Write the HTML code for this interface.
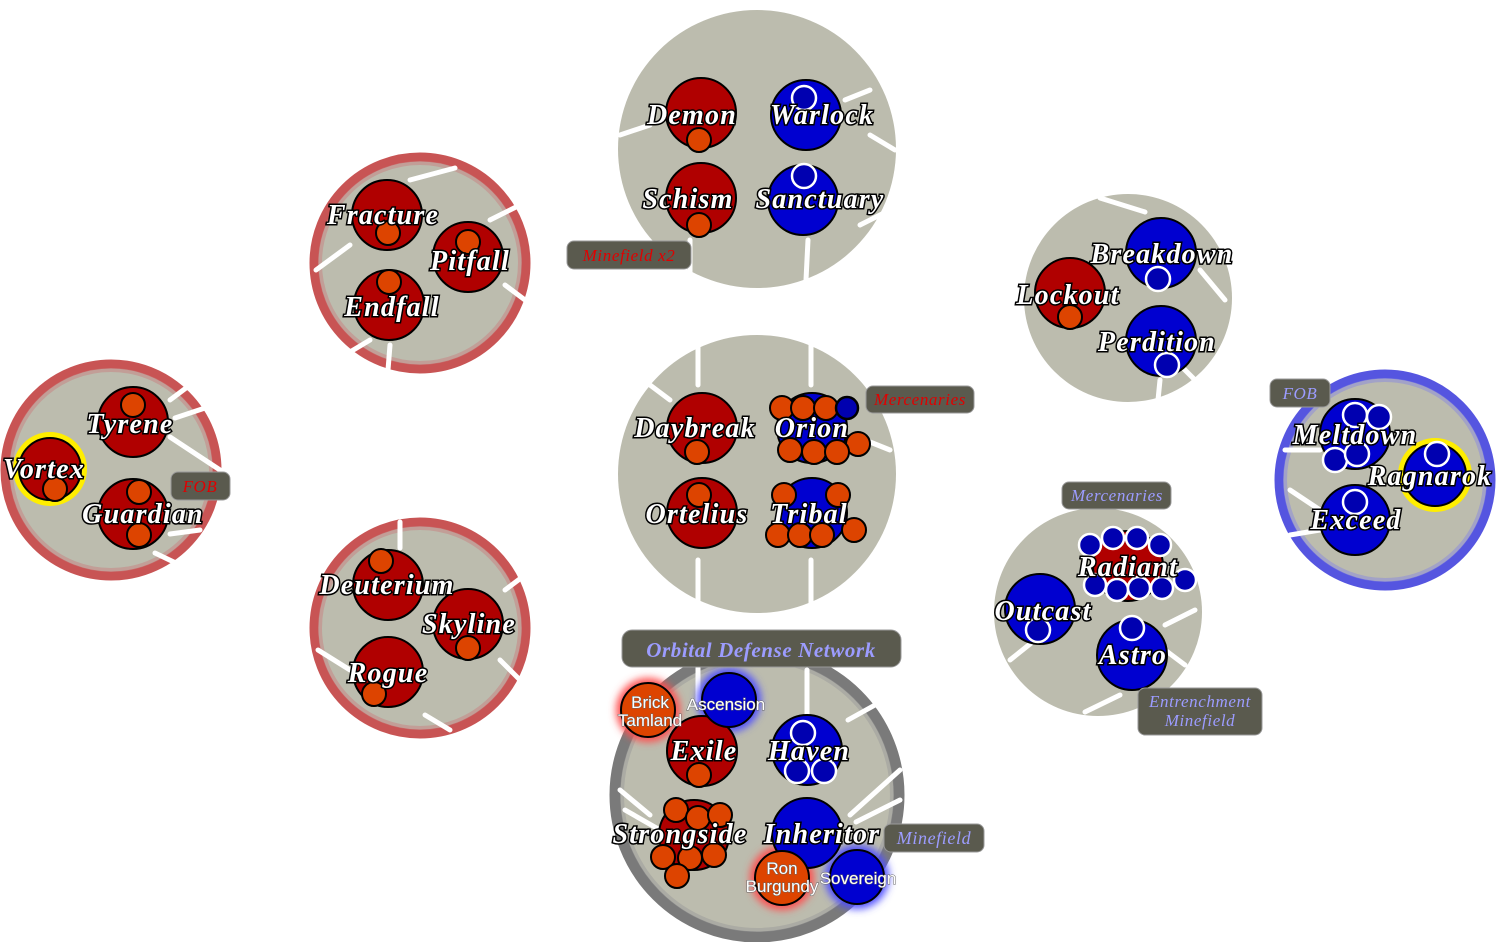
<!DOCTYPE html>
<html><head><meta charset="utf-8"><style>
html,body{margin:0;padding:0;background:#fff;}
svg{display:block}
.l{font-family:"Liberation Serif",serif;font-style:italic;font-weight:bold;font-size:28px;letter-spacing:1.2px;fill:#fff;stroke:#000;stroke-width:3px;paint-order:stroke;text-anchor:middle}
.s{font-family:"Liberation Sans",sans-serif;font-size:17px;fill:#fff;stroke:#666;stroke-width:1px;paint-order:stroke;text-anchor:middle}
.t{font-family:"Liberation Serif",serif;font-style:italic;font-size:17px;letter-spacing:0.6px;text-anchor:middle}
.sp{stroke:#fff;stroke-width:5;stroke-linecap:round}
</style></head><body>
<svg width="1497" height="942" viewBox="0 0 1497 942" xmlns="http://www.w3.org/2000/svg">
<defs>
<filter id="gr" x="-50%" y="-50%" width="200%" height="200%"><feGaussianBlur stdDeviation="4"/></filter>
</defs>
<g fill="#bcbcae">
<circle cx="757" cy="149" r="139"/>
<circle cx="420" cy="263" r="106" stroke="#c85454" stroke-width="9"/>
<circle cx="111" cy="470" r="106" stroke="#c85454" stroke-width="9"/>
<circle cx="420" cy="628" r="106" stroke="#c85454" stroke-width="9"/>
<circle cx="757" cy="474" r="139"/>
<circle cx="757" cy="795" r="142" stroke="#7a7a7a" stroke-width="11"/>
<circle cx="1128" cy="298" r="104"/>
<circle cx="1098" cy="612" r="104"/>
<circle cx="1385" cy="480" r="106" stroke="#5555e0" stroke-width="9"/>
</g>
<g fill="none" stroke-width="4" opacity="0.5">
<circle cx="420" cy="263" r="100" stroke="#c88080"/>
<circle cx="111" cy="470" r="100" stroke="#c88080"/>
<circle cx="420" cy="628" r="100" stroke="#c88080"/>
<circle cx="757" cy="795" r="135" stroke="#9a9a9a"/>
<circle cx="1385" cy="480" r="100" stroke="#8888e0"/>
</g>
<g class="sp">
<line x1="620" y1="135" x2="650" y2="125"/><line x1="690" y1="240" x2="690" y2="280"/><line x1="808" y1="240" x2="806" y2="280"/><line x1="860" y1="225" x2="890" y2="210"/><line x1="870" y1="135" x2="895" y2="150"/><line x1="845" y1="100" x2="870" y2="90"/>
<line x1="410" y1="180" x2="455" y2="168"/><line x1="490" y1="220" x2="520" y2="205"/><line x1="505" y1="285" x2="525" y2="300"/><line x1="316" y1="270" x2="350" y2="245"/><line x1="345" y1="355" x2="370" y2="340"/><line x1="390" y1="345" x2="388" y2="370"/>
<line x1="170" y1="400" x2="190" y2="385"/><line x1="175" y1="418" x2="205" y2="408"/><line x1="170" y1="437" x2="220" y2="470"/><line x1="170" y1="534" x2="200" y2="530"/><line x1="155" y1="553" x2="180" y2="565"/>
<line x1="400" y1="522" x2="400" y2="548"/><line x1="505" y1="590" x2="525" y2="575"/><line x1="500" y1="660" x2="520" y2="680"/><line x1="318" y1="650" x2="350" y2="670"/><line x1="425" y1="715" x2="450" y2="730"/>
<line x1="698" y1="345" x2="698" y2="385"/><line x1="811" y1="345" x2="811" y2="385"/><line x1="650" y1="385" x2="670" y2="400"/><line x1="698" y1="560" x2="698" y2="610"/><line x1="811" y1="560" x2="811" y2="610"/><line x1="865" y1="440" x2="890" y2="450"/>
<line x1="620" y1="790" x2="650" y2="815"/><line x1="625" y1="810" x2="660" y2="830"/><line x1="807" y1="670" x2="807" y2="715"/><line x1="848" y1="720" x2="875" y2="705"/><line x1="850" y1="815" x2="900" y2="770"/><line x1="856" y1="822" x2="900" y2="800"/><line x1="698" y1="668" x2="698" y2="700"/>
<line x1="1100" y1="198" x2="1145" y2="212"/><line x1="1200" y1="270" x2="1225" y2="300"/><line x1="1180" y1="365" x2="1200" y2="385"/><line x1="1160" y1="380" x2="1158" y2="400"/>
<line x1="1010" y1="660" x2="1035" y2="640"/><line x1="1085" y1="712" x2="1120" y2="695"/><line x1="1165" y1="625" x2="1195" y2="610"/><line x1="1165" y1="650" x2="1185" y2="665"/>
<line x1="1285" y1="450" x2="1320" y2="450"/><line x1="1290" y1="490" x2="1320" y2="510"/><line x1="1290" y1="535" x2="1320" y2="530"/>
</g>
<circle cx="648" cy="710" r="32" fill="#ff5050" filter="url(#gr)"/>
<circle cx="729" cy="700" r="32" fill="#5050ff" filter="url(#gr)"/>
<circle cx="782" cy="878" r="32" fill="#ff5050" filter="url(#gr)"/>
<circle cx="857" cy="877" r="32" fill="#5050ff" filter="url(#gr)"/>
<g stroke="#000" stroke-width="2">
<circle cx="50" cy="469" r="37" fill="#ffee00" stroke="none"/>
<circle cx="1435" cy="475" r="37" fill="#ffee00" stroke="none"/>
<g fill="#b00000">
<circle cx="701" cy="113" r="35"/><circle cx="701" cy="198" r="35"/>
<circle cx="387" cy="215" r="35"/><circle cx="468" cy="257" r="35"/><circle cx="389" cy="305" r="35"/>
<circle cx="133" cy="422" r="35"/><circle cx="50" cy="469" r="31"/><circle cx="133" cy="514" r="35"/>
<circle cx="388" cy="585" r="35"/><circle cx="468" cy="624" r="35"/><circle cx="388" cy="672" r="35"/>
<circle cx="702" cy="428" r="35"/><circle cx="702" cy="513" r="35"/>
<circle cx="702" cy="751" r="35"/><circle cx="694" cy="835" r="35"/>
<circle cx="1070" cy="293" r="35"/><circle cx="1128" cy="566" r="35"/>
</g>
<g fill="#0000d0">
<circle cx="806" cy="115" r="35"/><circle cx="803" cy="200" r="35"/>
<circle cx="812" cy="428" r="35"/><circle cx="812" cy="513" r="35"/>
<circle cx="807" cy="750" r="35"/><circle cx="807" cy="833" r="35"/>
<circle cx="1161" cy="253" r="35"/><circle cx="1161" cy="341" r="35"/>
<circle cx="1040" cy="609" r="35"/><circle cx="1132" cy="655" r="35"/>
<circle cx="1355" cy="434" r="35"/><circle cx="1435" cy="475" r="31"/><circle cx="1355" cy="520" r="35"/>
<circle cx="729" cy="700" r="27"/><circle cx="857" cy="877" r="27"/>
</g>
<g fill="#dd4400">
<circle cx="648" cy="710" r="27"/><circle cx="782" cy="878" r="27"/>
<circle cx="699" cy="140" r="12"/><circle cx="699" cy="225" r="12"/>
<circle cx="388" cy="233" r="12"/><circle cx="468" cy="242" r="12"/><circle cx="389" cy="282" r="12"/>
<circle cx="133" cy="405" r="12"/><circle cx="55" cy="489" r="12"/><circle cx="139" cy="492" r="12"/><circle cx="139" cy="535" r="12"/>
<circle cx="381" cy="561" r="12"/><circle cx="468" cy="648" r="12"/><circle cx="374" cy="694" r="12"/>
<circle cx="697" cy="452" r="12"/><circle cx="699" cy="495" r="12"/><circle cx="699" cy="775" r="12"/>
<circle cx="1070" cy="317" r="12"/>
<circle cx="782" cy="408" r="12"/><circle cx="803" cy="408" r="12"/><circle cx="826" cy="408" r="12"/><circle cx="858" cy="444" r="12"/><circle cx="790" cy="450" r="12"/><circle cx="814" cy="452" r="12"/><circle cx="837" cy="452" r="12"/>
<circle cx="784" cy="495" r="12"/><circle cx="838" cy="495" r="12"/><circle cx="854" cy="530" r="12"/><circle cx="778" cy="535" r="12"/><circle cx="800" cy="535" r="12"/><circle cx="822" cy="535" r="12"/>
<circle cx="676" cy="810" r="12"/><circle cx="698" cy="818" r="12"/><circle cx="720" cy="815" r="12"/><circle cx="663" cy="857" r="12"/><circle cx="690" cy="858" r="12"/><circle cx="714" cy="855" r="12"/><circle cx="677" cy="876" r="12"/>
</g>
<g fill="#0000b0" stroke="#fff" stroke-width="2.5">
<circle cx="804" cy="98" r="12"/><circle cx="804" cy="176" r="12"/>
<circle cx="847" cy="408" r="11" stroke="#000"/>
<circle cx="803" cy="733" r="12"/><circle cx="797" cy="771" r="12"/><circle cx="824" cy="771" r="12"/>
<circle cx="1158" cy="279" r="12"/><circle cx="1167" cy="365" r="12"/>
<circle cx="1038" cy="630" r="12"/><circle cx="1132" cy="628" r="12"/>
<circle cx="1090" cy="545" r="11"/><circle cx="1113" cy="538" r="11"/><circle cx="1137" cy="538" r="11"/><circle cx="1160" cy="545" r="11"/><circle cx="1095" cy="585" r="11"/><circle cx="1117" cy="590" r="11"/><circle cx="1139" cy="588" r="11"/><circle cx="1162" cy="588" r="11"/><circle cx="1185" cy="580" r="11"/>
<circle cx="1355" cy="415" r="12"/><circle cx="1379" cy="417" r="12"/><circle cx="1335" cy="460" r="12"/><circle cx="1357" cy="454" r="12"/><circle cx="1437" cy="454" r="12"/><circle cx="1355" cy="502" r="12"/>
</g>
</g>
<g class="l">
<text x="692" y="124">Demon</text><text x="822" y="124">Warlock</text><text x="688" y="208">Schism</text><text x="820" y="208">Sanctuary</text>
<text x="383" y="224">Fracture</text><text x="470" y="270">Pitfall</text><text x="392" y="316">Endfall</text>
<text x="130" y="433">Tyrene</text><text x="44" y="478">Vortex</text><text x="143" y="523">Guardian</text>
<text x="387" y="594">Deuterium</text><text x="469" y="633">Skyline</text><text x="388" y="682">Rogue</text>
<text x="695" y="437">Daybreak</text><text x="812" y="437">Orion</text><text x="697" y="523">Ortelius</text><text x="809" y="523">Tribal</text>
<text x="704" y="760">Exile</text><text x="809" y="760">Haven</text><text x="680" y="843">Strongside</text><text x="822" y="843">Inheritor</text>
<text x="1162" y="263">Breakdown</text><text x="1068" y="304">Lockout</text><text x="1157" y="351">Perdition</text>
<text x="1128" y="576">Radiant</text><text x="1043" y="620">Outcast</text><text x="1133" y="664">Astro</text>
<text x="1355" y="444">Meltdown</text><text x="1430" y="485">Ragnarok</text><text x="1356" y="529">Exceed</text>
</g>
<g class="s">
<text x="650" y="708">Brick</text><text x="650" y="726">Tamland</text>
<text x="726" y="710">Ascension</text>
<text x="782" y="874">Ron</text><text x="782" y="892">Burgundy</text>
<text x="858" y="884">Sovereign</text>
</g>
<g fill="#5a5a4e" stroke="#999" stroke-width="1">
<rect x="567" y="241" width="124" height="28" rx="7"/>
<rect x="866" y="386" width="108" height="27" rx="7"/>
<rect x="171" y="472" width="59" height="28" rx="7"/>
<rect x="622" y="630" width="279" height="37" rx="10"/>
<rect x="884" y="824" width="100" height="28" rx="7"/>
<rect x="1062" y="482" width="109" height="27" rx="7"/>
<rect x="1138" y="688" width="124" height="47" rx="7"/>
<rect x="1270" y="379" width="60" height="28" rx="7"/>
</g>
<g class="t">
<text x="629" y="261" fill="#e00000">Minefield x2</text>
<text x="920" y="405" fill="#e00000">Mercenaries</text>
<text x="200" y="492" fill="#e00000">FOB</text>
<text x="761" y="657" fill="#9c9cff" style="font-size:21px;font-weight:bold">Orbital Defense Network</text>
<text x="934" y="844" fill="#9c9cff" style="font-size:18px">Minefield</text>
<text x="1117" y="501" fill="#9c9cff">Mercenaries</text>
<text x="1200" y="707" fill="#9c9cff">Entrenchment</text>
<text x="1200" y="726" fill="#9c9cff">Minefield</text>
<text x="1300" y="399" fill="#9c9cff">FOB</text>
</g>
</svg>
</body></html>
